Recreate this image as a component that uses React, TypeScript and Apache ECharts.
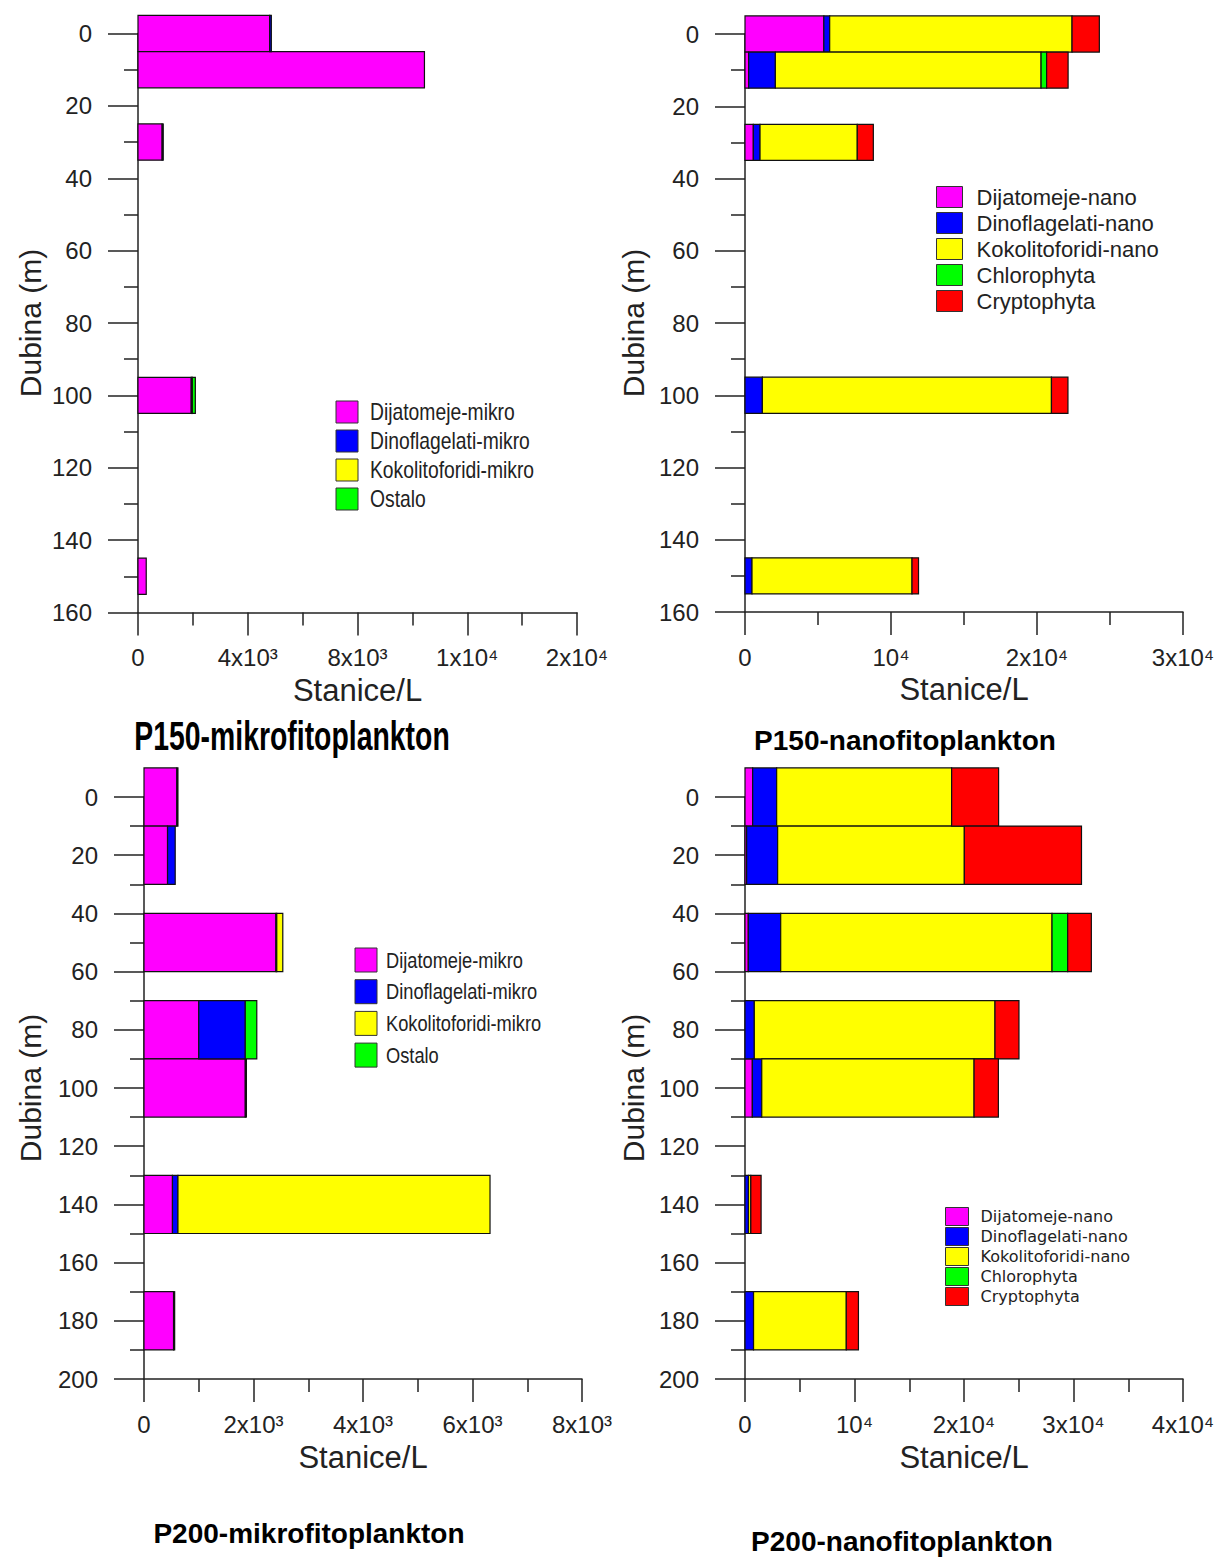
import React, { useEffect, useRef } from 'react';
import * as echarts from 'echarts';

// ---------------- data ----------------
const mikroTaxa = ['Dijatomeje-mikro', 'Dinoflagelati-mikro', 'Kokolitoforidi-mikro', 'Ostalo'];
const nanoTaxa = ['Dijatomeje-nano', 'Dinoflagelati-nano', 'Kokolitoforidi-nano', 'Chlorophyta', 'Cryptophyta'];
const mikroColors = ['#FF00FF', '#0000FF', '#FFFF00', '#00FF00'];
const nanoColors = ['#FF00FF', '#0000FF', '#FFFF00', '#00FF00', '#FF0000'];

// sampling depths (m)
const p150Depths = [0, 10, 30, 100, 150];
const p200Depths = [0, 20, 50, 80, 100, 140, 180];

// P150 mikrofitoplankton (stanice/L)
const p150MikroDijatomeje = [4800, 10440, 880, 1940, 300];
const p150MikroDinoflagelati = [60, 0, 40, 40, 0];
const p150MikroKokolitoforidi = [0, 0, 0, 0, 0];
const p150MikroOstalo = [0, 0, 0, 110, 0];

// P150 nanofitoplankton (stanice/L)
const p150NanoDijatomeje = [5400, 250, 570, 0, 0];
const p150NanoDinoflagelati = [400, 1830, 460, 1190, 480];
const p150NanoKokolitoforidi = [16600, 18200, 6660, 19800, 10960];
const p150NanoChlorophyta = [0, 380, 0, 0, 0];
const p150NanoCryptophyta = [1870, 1470, 1100, 1130, 445];

// P200 mikrofitoplankton (stanice/L)
const p200MikroDijatomeje = [600, 430, 2410, 1000, 1850, 520, 540];
const p200MikroDinoflagelati = [20, 140, 15, 850, 20, 100, 20];
const p200MikroKokolitoforidi = [0, 0, 110, 0, 0, 5700, 0];
const p200MikroOstalo = [0, 0, 0, 210, 0, 0, 0];

// P200 nanofitoplankton (stanice/L)
const p200NanoDijatomeje = [700, 150, 300, 0, 670, 0, 0];
const p200NanoDinoflagelati = [2190, 2830, 2960, 850, 860, 320, 780];
const p200NanoKokolitoforidi = [15980, 17050, 24780, 21980, 19390, 210, 8470];
const p200NanoChlorophyta = [0, 0, 1430, 0, 0, 0, 0];
const p200NanoCryptophyta = [4290, 10700, 2160, 2190, 2220, 940, 1110];

// x tick labels
const p150MikroXTickValues = [0, 4000, 8000, 12000, 16000];
const p150MikroXTickLabels = ['0', '4x10³', '8x10³', '1x10⁴', '2x10⁴'];
const p150NanoXTickValues = [0, 10000, 20000, 30000];
const p150NanoXTickLabels = ['0', '10⁴', '2x10⁴', '3x10⁴'];
const p200MikroXTickValues = [0, 2000, 4000, 6000, 8000];
const p200MikroXTickLabels = ['0', '2x10³', '4x10³', '6x10³', '8x10³'];
const p200NanoXTickValues = [0, 10000, 20000, 30000, 40000];
const p200NanoXTickLabels = ['0', '10⁴', '2x10⁴', '3x10⁴', '4x10⁴'];

const titles = ['P150-mikrofitoplankton', 'P150-nanofitoplankton', 'P200-mikrofitoplankton', 'P200-nanofitoplankton'];
const yAxisName = 'Dubina (m)';
const xAxisName = 'Stanice/L';

// ---------------- styling ----------------
const SANS = "'Liberation Sans', Arial, Helvetica, sans-serif";
const VERDANA = "'DejaVu Sans', Verdana, sans-serif";
const INK = '#222';

const panels = [
  {
    depths: p150Depths, taxa: mikroTaxa, colors: mikroColors,
    values: [p150MikroDijatomeje, p150MikroDinoflagelati, p150MikroKokolitoforidi, p150MikroOstalo],
    xMax: 16000, xInterval: 4000, tickValues: p150MikroXTickValues, tickLabels: p150MikroXTickLabels,
    yMax: 160, band: 10,
    grid: { left: 138, top: 33.5, width: 439, height: 579 },
    yNameGap: 93, xNameGap: 62,
    legend: { kind: 'graphic', left: 336, top: 412, w: 22, h: 22, step: 29, fontSize: 23, scaleX: 0.84, textX: 370 },
    title: { x: 292, y: 736, size: 40, scaleX: 0.71 },
  },
  {
    depths: p150Depths, taxa: nanoTaxa, colors: nanoColors,
    values: [p150NanoDijatomeje, p150NanoDinoflagelati, p150NanoKokolitoforidi, p150NanoChlorophyta, p150NanoCryptophyta],
    xMax: 30000, xInterval: 10000, tickValues: p150NanoXTickValues, tickLabels: p150NanoXTickLabels,
    yMax: 160, band: 10,
    grid: { left: 745, top: 34, width: 438, height: 578 },
    yNameGap: 97, xNameGap: 62,
    legend: { kind: 'legend', left: 936, top: 186, itemWidth: 26, itemHeight: 21, itemGap: 4, fontSize: 22, fontFamily: SANS, pad: 9 },
    title: { x: 905, y: 740, size: 28, scaleX: 1 },
  },
  {
    depths: p200Depths, taxa: mikroTaxa, colors: mikroColors,
    values: [p200MikroDijatomeje, p200MikroDinoflagelati, p200MikroKokolitoforidi, p200MikroOstalo],
    xMax: 8000, xInterval: 2000, tickValues: p200MikroXTickValues, tickLabels: p200MikroXTickLabels,
    yMax: 200, band: 20,
    grid: { left: 144, top: 797, width: 438, height: 582 },
    yNameGap: 99, xNameGap: 63,
    legend: { kind: 'graphic', left: 355, top: 960, w: 22, h: 24, step: 31.7, fontSize: 22, scaleX: 0.83, textX: 386 },
    title: { x: 309, y: 1533, size: 28, scaleX: 1 },
  },
  {
    depths: p200Depths, taxa: nanoTaxa, colors: nanoColors,
    values: [p200NanoDijatomeje, p200NanoDinoflagelati, p200NanoKokolitoforidi, p200NanoChlorophyta, p200NanoCryptophyta],
    xMax: 40000, xInterval: 10000, tickValues: p200NanoXTickValues, tickLabels: p200NanoXTickLabels,
    yMax: 200, band: 20,
    grid: { left: 745, top: 797, width: 438, height: 582 },
    yNameGap: 97, xNameGap: 63,
    legend: { kind: 'legend', left: 945, top: 1207, itemWidth: 23, itemHeight: 18, itemGap: 1, fontSize: 16, fontFamily: VERDANA, pad: 7 },
    title: { x: 902, y: 1541, size: 28, scaleX: 1 },
  },
];

function stack(values: number[][], depths: number[]) {
  const cum = depths.map(() => 0);
  return values.map((vals) =>
    depths.map((d, i) => {
      const s = cum[i];
      cum[i] += vals[i];
      return [s, cum[i], d];
    })
  );
}

function makeRenderItem(band: number) {
  return (_params: any, api: any) => {
    const x0 = api.value(0);
    const x1 = api.value(1);
    const d = api.value(2);
    if (!(x1 > x0)) return null;
    const a = api.coord([x0, d - band / 2]);
    const b = api.coord([x1, d + band / 2]);
    return {
      type: 'rect',
      shape: { x: a[0], y: Math.min(a[1], b[1]), width: b[0] - a[0], height: Math.abs(b[1] - a[1]) },
      style: { fill: api.visual('color'), stroke: '#111', lineWidth: 1.2 },
    };
  };
}

function buildOption() {
  const lineStyle = { color: INK, width: 1.5 };
  const grid: any[] = [];
  const xAxis: any[] = [];
  const yAxis: any[] = [];
  const series: any[] = [];
  const legend: any[] = [];
  const graphic: any[] = [];

  panels.forEach((p, pi) => {
    grid.push({ ...p.grid, containLabel: false, outerBoundsMode: 'none' });
    xAxis.push({
      type: 'value', gridIndex: pi, position: 'bottom', min: 0, max: p.xMax, interval: p.xInterval,
      axisLine: { show: true, onZero: false, lineStyle },
      axisTick: { show: true, length: 23, lineStyle },
      minorTick: { show: true, splitNumber: 2, length: 13, lineStyle },
      splitLine: { show: false }, minorSplitLine: { show: false },
      axisLabel: {
        margin: 33, fontSize: 24, color: INK, fontFamily: SANS,
        formatter: (v: number) => {
          const k = p.tickValues.indexOf(v);
          return k >= 0 ? p.tickLabels[k] : '';
        },
      },
      name: xAxisName, nameLocation: 'middle', nameGap: p.xNameGap,
      nameTextStyle: { fontSize: 31, color: INK, fontFamily: SANS },
    });
    yAxis.push({
      type: 'value', gridIndex: pi, inverse: true, min: 0, max: p.yMax, interval: 20,
      axisLine: { show: true, onZero: false, lineStyle },
      axisTick: { show: true, length: 30, lineStyle },
      minorTick: { show: true, splitNumber: 2, length: 14, lineStyle },
      splitLine: { show: false }, minorSplitLine: { show: false },
      axisLabel: { margin: 46, fontSize: 24, color: INK, fontFamily: SANS },
      name: yAxisName, nameLocation: 'middle', nameRotate: 90, nameGap: p.yNameGap,
      nameTextStyle: { fontSize: 30, color: INK, fontFamily: SANS },
    });
    const stacked = stack(p.values, p.depths);
    p.taxa.forEach((name, k) => {
      series.push({
        type: 'custom', name, xAxisIndex: pi, yAxisIndex: pi,
        renderItem: makeRenderItem(p.band),
        encode: { x: [0, 1], y: 2 },
        itemStyle: { color: p.colors[k] },
        clip: false,
        data: stacked[k],
      });
    });
    const L: any = p.legend;
    if (L.kind === 'legend') {
      legend.push({
        data: p.taxa, orient: 'vertical', left: L.left, top: L.top, padding: 0,
        itemWidth: L.itemWidth, itemHeight: L.itemHeight, itemGap: L.itemGap,
        icon: 'rect', selectedMode: false,
        itemStyle: { borderColor: '#333', borderWidth: 1 },
        textStyle: { fontSize: L.fontSize, fontFamily: L.fontFamily, color: INK, padding: [0, 0, 0, L.pad] },
      });
    } else {
      // condensed legend (Arial-Narrow look) drawn with graphic elements
      p.taxa.forEach((name, k) => {
        const cy = L.top + k * L.step;
        graphic.push({
          type: 'rect',
          shape: { x: L.left, y: cy - L.h / 2, width: L.w, height: L.h },
          style: { fill: p.colors[k], stroke: '#333', lineWidth: 1 },
        });
        graphic.push({
          type: 'text', x: L.textX, y: cy, scaleX: L.scaleX,
          style: { text: name, fontSize: L.fontSize, fontFamily: SANS, fill: INK, align: 'left', verticalAlign: 'middle' },
        });
      });
    }
    graphic.push({
      type: 'text', x: p.title.x, y: p.title.y, scaleX: p.title.scaleX,
      style: {
        text: titles[pi], fill: '#000', fontSize: p.title.size, fontWeight: 'bold', fontFamily: SANS,
        align: 'center', verticalAlign: 'middle',
      },
    });
  });

  return {
    animation: false,
    backgroundColor: '#fff',
    textStyle: { fontFamily: SANS },
    grid, xAxis, yAxis, series, legend, graphic,
  };
}

export default function App() {
  const ref = useRef<HTMLDivElement>(null);
  useEffect(() => {
    document.body.style.margin = '0';
    const chart = echarts.init(ref.current!, null, { renderer: 'svg' });
    chart.setOption(buildOption() as any);
    return () => chart.dispose();
  }, []);
  return <div ref={ref} style={{ width: 1218, height: 1558 }} />;
}
